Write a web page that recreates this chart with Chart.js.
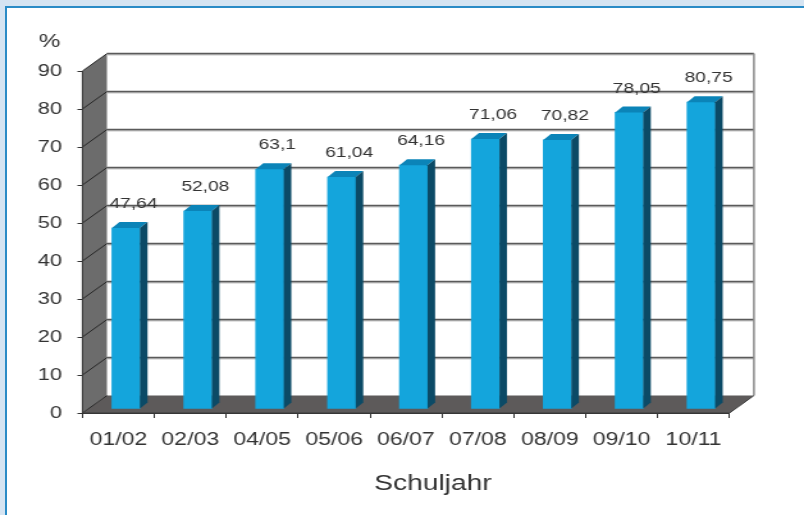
<!DOCTYPE html>
<html>
<head>
<meta charset="utf-8">
<script src="https://cdn.jsdelivr.net/npm/chart.js@4.4.1/dist/chart.umd.min.js"></script>
<style>
  html, body { margin: 0; padding: 0; width: 804px; height: 515px; overflow: hidden; background: #d5e4f2; }
  #panel { position: absolute; left: 5px; top: 6px; right: 0; bottom: -10px; background: #fff;
           border-left: 2px solid #2a8bc6; border-top: 2px solid #2a8bc6; }
  /* the chart is laid out 628 px wide and stretched to the full width */
  #wrap { position: absolute; left: 0; top: 0; width: 628px; height: 515px;
          transform-origin: 0 0; transform: scale(1.28025, 1); }
</style>
</head>
<body>
<div id="panel"></div>
<div id="wrap"><canvas id="c"></canvas></div>
<script>
const categories = ['01/02', '02/03', '04/05', '05/06', '06/07', '07/08', '08/09', '09/10', '10/11'];
const values = [47.64, 52.08, 63.1, 61.04, 64.16, 71.06, 70.82, 78.05, 80.75];
const yTicks = [0, 10, 20, 30, 40, 50, 60, 70, 80, 90];
const yUnit = '%';
const xTitle = 'Schuljahr';

const FONT = '"Liberation Sans", Arial, sans-serif';
const TEXT = '#333333';

// depth of side wall / floor / back wall
const DX = 19.1, DY = -17.4;
// bars stand a little behind the front plane
const BX = 5.9, BY = -4;
// depth of each bar
const BDX = 5.9, BDY = -6;

const fmt = v => String(v).replace('.', ',');

const depth3d = {
  id: 'depth3d',
  beforeDatasetsDraw(chart) {
    const { ctx, chartArea: a, scales: { y } } = chart;
    const L = a.left, R = a.right;
    const T = y.getPixelForValue(yTicks[yTicks.length - 1]);
    const B = y.getPixelForValue(0);
    ctx.save();
    // back wall
    ctx.fillStyle = '#ffffff';
    ctx.fillRect(L + DX, T + DY, R - L, B - T);
    // side wall
    ctx.fillStyle = '#6c6c6c';
    ctx.beginPath();
    ctx.moveTo(L, T); ctx.lineTo(L + DX, T + DY); ctx.lineTo(L + DX, B + DY); ctx.lineTo(L, B);
    ctx.closePath(); ctx.fill();
    // floor
    ctx.fillStyle = '#5d5a5a';
    ctx.beginPath();
    ctx.moveTo(L, B); ctx.lineTo(L + DX, B + DY); ctx.lineTo(R + DX, B + DY); ctx.lineTo(R, B);
    ctx.closePath(); ctx.fill();
    // grid lines on the back wall and across the side wall
    yTicks.forEach(v => {
      const py = y.getPixelForValue(v);
      if (v > 0) {
        ctx.strokeStyle = '#cfcfcf';
        ctx.lineWidth = 1;
        ctx.beginPath(); ctx.moveTo(L + DX, py + DY + 1.5); ctx.lineTo(R + DX, py + DY + 1.5); ctx.stroke();
        ctx.strokeStyle = '#5a5a5a';
        ctx.lineWidth = 1.7;
        ctx.beginPath(); ctx.moveTo(L + DX, py + DY); ctx.lineTo(R + DX, py + DY); ctx.stroke();
      }
      ctx.strokeStyle = '#262626';
      ctx.lineWidth = 1;
      ctx.beginPath(); ctx.moveTo(L, py); ctx.lineTo(L + DX, py + DY); ctx.stroke();
    });
    // right edge of the back wall
    ctx.strokeStyle = '#8a8a8a';
    ctx.lineWidth = 1.5;
    ctx.beginPath(); ctx.moveTo(R + DX, T + DY); ctx.lineTo(R + DX, B + DY); ctx.stroke();
    // front edges
    ctx.strokeStyle = '#3a3a3a';
    ctx.lineWidth = 1;
    ctx.beginPath(); ctx.moveTo(L, T); ctx.lineTo(L, B); ctx.lineTo(R, B); ctx.lineTo(R + DX, B + DY); ctx.stroke();
    ctx.restore();
  },
  beforeDatasetDraw(chart) {
    chart.ctx.save();
    chart.ctx.translate(BX, BY);
  },
  afterDatasetDraw(chart, args) {
    const ctx = chart.ctx;
    args.meta.data.forEach(bar => {
      const { x, y, base, width } = bar.getProps(['x', 'y', 'base', 'width'], true);
      const l = x - width / 2, r = x + width / 2;
      // top face
      ctx.fillStyle = '#0b84b8';
      ctx.beginPath();
      ctx.moveTo(l, y); ctx.lineTo(l + BDX, y + BDY); ctx.lineTo(r + BDX, y + BDY); ctx.lineTo(r, y);
      ctx.closePath(); ctx.fill();
      // side face
      ctx.fillStyle = '#0b4a66';
      ctx.beginPath();
      ctx.moveTo(r, y); ctx.lineTo(r + BDX, y + BDY); ctx.lineTo(r + BDX, base + BDY); ctx.lineTo(r, base);
      ctx.closePath(); ctx.fill();
    });
    ctx.restore();
  },
  afterDatasetsDraw(chart) {
    const ctx = chart.ctx;
    const meta = chart.getDatasetMeta(0);
    ctx.save();
    ctx.fillStyle = TEXT;
    ctx.font = '15px ' + FONT;
    ctx.textAlign = 'center';
    ctx.textBaseline = 'middle';
    meta.data.forEach((bar, i) => {
      const { x, y } = bar.getProps(['x', 'y'], true);
      ctx.fillText(fmt(values[i]), x + BX + BDX, y + BY - 24);
    });
    ctx.restore();
  },
  afterDraw(chart) {
    const ctx = chart.ctx;
    ctx.save();
    ctx.fillStyle = TEXT;
    ctx.textAlign = 'center';
    ctx.textBaseline = 'middle';
    ctx.font = '19px ' + FONT;
    ctx.fillText(yUnit, 38.7, 42);
    ctx.font = '22px ' + FONT;
    ctx.fillText(xTitle, 338.2, 484);
    ctx.restore();
  }
};

new Chart(document.getElementById('c'), {
  type: 'bar',
  data: {
    labels: categories,
    datasets: [{
      data: values,
      backgroundColor: '#14a5dc',
      borderWidth: 0,
      barThickness: 21.9
    }]
  },
  options: {
    responsive: true,
    maintainAspectRatio: false,
    animation: false,
    layout: { padding: { left: 0, top: 71, right: 58.2, bottom: 0 } },
    plugins: { legend: { display: false }, tooltip: { enabled: false } },
    scales: {
      x: {
        grid: { drawOnChartArea: false, tickLength: 5, color: '#333', lineWidth: 1 },
        border: { display: true, color: '#333' },
        ticks: { color: TEXT, font: { family: FONT, size: 18 }, padding: 11, maxRotation: 0, autoSkip: false },
        afterFit(scale) { scale.height = 102; }
      },
      y: {
        min: 0, max: 90,
        grid: { drawOnChartArea: false, tickLength: 3.9, color: '#333', lineWidth: 1 },
        border: { display: true, color: '#333' },
        ticks: { stepSize: 10, color: TEXT, font: { family: FONT, size: 17 }, padding: 12.1 },
        afterFit(scale) { scale.width = 64.4; }
      }
    }
  },
  plugins: [depth3d]
});
</script>
</body>
</html>
